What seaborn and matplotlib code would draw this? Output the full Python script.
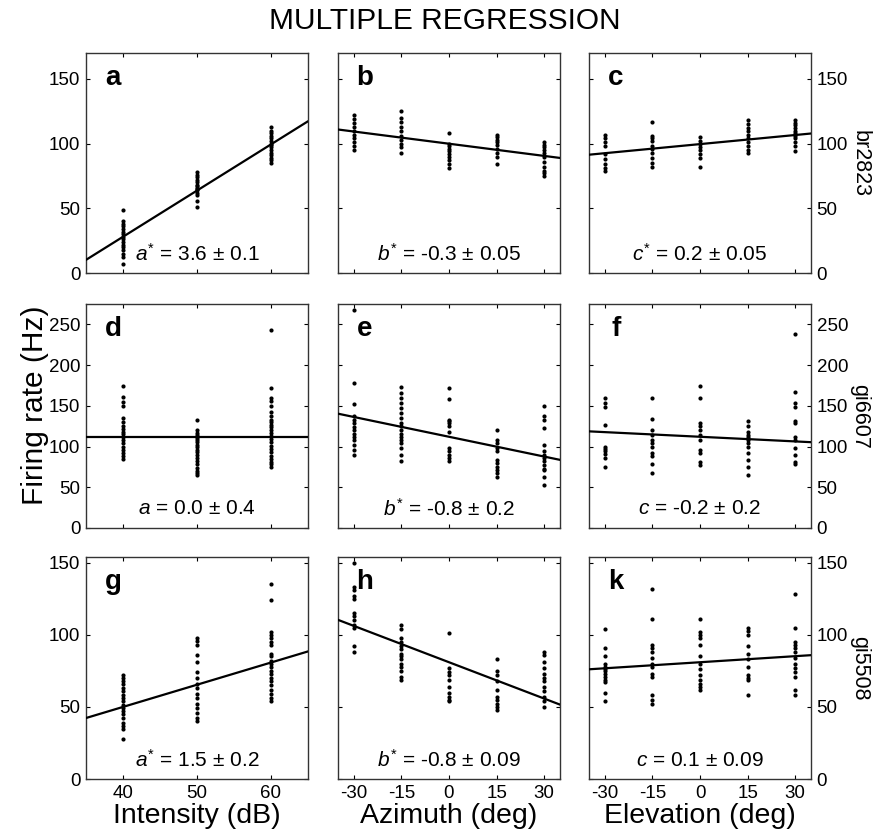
import numpy as np
import pandas as pd
import matplotlib
matplotlib.use("Agg")
import matplotlib.pyplot as plt
import seaborn as sns

# ---------------- data ----------------
intensity_ticks = [40, 50, 60]
angle_ticks = [-30, -15, 0, 15, 30]

panel_a = {40: [49, 40, 38, 36, 34, 32, 30, 28, 26, 24, 22, 20, 18, 15, 12, 7],
           50: [51, 56, 60, 62, 64, 65, 66, 67, 68, 70, 72, 74, 76, 78],
           60: [85, 87, 89, 91, 93, 95, 97, 99, 100, 102, 104, 106, 108, 110, 113]}
panel_b = {-30: [122, 119, 116, 113, 110, 107, 104, 101, 98, 95],
           -15: [125, 120, 117, 113, 110, 106, 103, 100, 97, 93],
           0: [108, 100, 98, 96, 94, 92, 90, 87, 84, 81],
           15: [107, 105, 103, 101, 99, 96, 93, 90, 84],
           30: [101, 99, 97, 95, 93, 90, 86, 82, 79, 77, 75]}
panel_c = {-30: [107, 104, 101, 98, 92, 88, 84, 81, 79],
           -15: [117, 106, 104, 102, 98, 96, 93, 89, 85, 82],
           0: [105, 102, 100, 97, 95, 92, 89, 82],
           15: [118, 115, 112, 110, 107, 104, 101, 98, 95, 93],
           30: [118, 116, 114, 112, 110, 108, 106, 104, 101, 98, 94]}
panel_d = {40: [174, 161, 155, 150, 135, 130, 125, 121, 118, 115, 112, 108, 104, 100, 96, 92, 88, 85],
           50: [133, 120, 117, 114, 111, 108, 105, 102, 99, 96, 93, 90, 86, 82, 78, 74, 70, 67, 65],
           60: [243, 172, 160, 156, 150, 143, 137, 133, 130, 127, 124, 120, 117, 113, 109, 105,
                101, 97, 93, 89, 85, 81, 78, 75]}
panel_e = {-30: [268, 178, 152, 138, 133, 129, 124, 120, 116, 112, 108, 102, 96, 90],
           -15: [173, 166, 160, 153, 147, 141, 135, 129, 125, 120, 116, 112, 108, 104, 98, 90, 82],
           0: [172, 158, 133, 131, 129, 125, 118, 98, 94, 90, 86, 82],
           15: [120, 108, 104, 98, 94, 84, 80, 75, 71, 67, 63],
           30: [150, 137, 133, 123, 102, 94, 90, 86, 82, 77, 73, 71, 63, 53]}
panel_f = {-30: [160, 154, 149, 126, 100, 97, 94, 91, 86, 75],
           -15: [160, 134, 120, 114, 108, 104, 100, 92, 88, 79, 67],
           0: [174, 160, 129, 125, 120, 114, 108, 96, 92, 81, 77],
           15: [131, 125, 118, 114, 112, 108, 104, 100, 92, 84, 75, 65],
           30: [238, 167, 153, 149, 131, 129, 112, 108, 98, 90, 81, 79]}
panel_g = {40: [72, 70, 68, 66, 63, 61, 58, 56, 54, 51, 49, 47, 45, 42, 39, 37, 35, 28],
           50: [98, 96, 93, 86, 81, 74, 70, 66, 63, 59, 56, 52, 49, 46, 42, 40],
           60: [135, 124, 102, 100, 98, 95, 93, 87, 85, 82, 80, 78, 75, 73, 70, 68, 65, 62, 59, 56, 54]}
panel_h = {-30: [150, 133, 131, 127, 125, 115, 113, 110, 107, 105, 92, 88],
           -15: [107, 104, 98, 95, 92, 90, 87, 85, 83, 80, 78, 75, 71, 69],
           0: [101, 77, 74, 72, 69, 64, 60, 57, 55, 54],
           15: [83, 75, 72, 68, 62, 57, 55, 52, 50, 48],
           30: [88, 86, 81, 77, 73, 70, 68, 64, 61, 57, 54, 50]}
panel_k = {-30: [104, 91, 85, 80, 78, 76, 75, 73, 71, 69, 67, 60, 54],
           -15: [132, 111, 93, 91, 88, 84, 80, 78, 73, 71, 58, 55, 52],
           0: [111, 102, 100, 98, 93, 85, 80, 76, 72, 69, 66, 64, 62],
           15: [105, 103, 100, 92, 87, 83, 78, 72, 70, 69, 58],
           30: [128, 105, 95, 93, 91, 88, 84, 80, 77, 74, 71, 62, 58]}

panels = [panel_a, panel_b, panel_c, panel_d, panel_e, panel_f, panel_g, panel_h, panel_k]
letters = ["a", "b", "c", "d", "e", "f", "g", "h", "k"]
line_intercepts = [-114.8, 99.9, 99.6, 112.0, 112.0, 112.0, -11.6, 81.0, 81.0]
line_slopes = [3.57, -0.314, 0.234, 0.0, -0.81, -0.19, 1.54, -0.84, 0.14]
coef_names = ["a", "b", "c", "a", "b", "c", "a", "b", "c"]
coef_star = [True, True, True, False, True, False, True, True, False]
coef_texts = ["3.6 \u00b1 0.1", "-0.3 \u00b1 0.05", "0.2 \u00b1 0.05",
              "0.0 \u00b1 0.4", "-0.8 \u00b1 0.2", "-0.2 \u00b1 0.2",
              "1.5 \u00b1 0.2", "-0.8 \u00b1 0.09", "0.1 \u00b1 0.09"]
neuron_labels = ["br2823", "gi6607", "gi5508"]
row_yticks = [[0, 50, 100, 150], [0, 50, 100, 150, 200, 250], [0, 50, 100, 150]]
row_ylims = [(0, 170), (0, 275), (0, 154)]
col_xlabels = ["Intensity (dB)", "Azimuth (deg)", "Elevation (deg)"]
col_xlims = [(35, 65), (-35, 35), (-35, 35)]
col_xticks = [intensity_ticks, angle_ticks, angle_ticks]

# ---------------- style ----------------
sns.set_style("white")
plt.rcParams["font.family"] = ["Liberation Sans", "DejaVu Sans"]
plt.rcParams["mathtext.fontset"] = "custom"
plt.rcParams["mathtext.it"] = "Liberation Sans:italic"
plt.rcParams["mathtext.rm"] = "Liberation Sans"
plt.rcParams["axes.unicode_minus"] = False
plt.rcParams["text.color"] = "black"
plt.rcParams["axes.labelcolor"] = "black"
plt.rcParams["xtick.color"] = "black"
plt.rcParams["ytick.color"] = "black"

W, H = 882, 839
fig = plt.figure(figsize=(W / 100, H / 100), dpi=100)

col_left = [86, 338, 589]
col_w = 222
row_top = [53, 304, 557]
row_bot = [273, 528, 779]

for i in range(9):
    r, c = divmod(i, 3)
    ax = fig.add_axes([col_left[c] / W, 1 - row_bot[r] / H,
                       col_w / W, (row_bot[r] - row_top[r]) / H])
    pdata = panels[i]
    xs, ys = [], []
    for k, vals in pdata.items():
        xs += [k] * len(vals)
        ys += vals
    df = pd.DataFrame({"x": xs, "y": ys})
    sns.scatterplot(data=df, x="x", y="y", ax=ax, color="black", s=9,
                    linewidth=0, zorder=3)
    xl = col_xlims[c]
    lx = np.array(xl, dtype=float)
    ldf = pd.DataFrame({"x": lx, "y": line_intercepts[i] + line_slopes[i] * lx})
    sns.lineplot(data=ldf, x="x", y="y", ax=ax, color="black", linewidth=1.6,
                 zorder=4)
    ax.set_xlim(xl)
    ax.set_ylim(row_ylims[r])
    ax.set_xticks(col_xticks[c])
    ax.set_yticks(row_yticks[r])
    ax.tick_params(direction="in", length=3, width=0.8, top=True, right=True,
                   bottom=True, left=True, labelsize=13.5, colors="black",
                   labelleft=(c == 0), labelright=(c == 2),
                   labelbottom=(r == 2), pad=4)
    for s in ax.spines.values():
        s.set_color("#333333")
        s.set_linewidth(1.0)
    ax.set_xlabel(col_xlabels[c] if r == 2 else "", fontsize=20.5, labelpad=1)
    ax.set_ylabel("")
    ax.text(27 / col_w, 1 - 25 / (row_bot[r] - row_top[r]), letters[i],
            transform=ax.transAxes, fontsize=20, fontweight="bold",
            ha="center", va="center")
    star = "^{*}" if coef_star[i] else ""
    label = r"$%s%s$ = %s" % (coef_names[i], star, coef_texts[i])
    ax.text(0.5, 19 / (row_bot[r] - row_top[r]), label, transform=ax.transAxes,
            fontsize=15, ha="center", va="center")
    if c == 2:
        ax.text(1.0 + 49 / col_w, 0.5, neuron_labels[r], transform=ax.transAxes,
                rotation=270, fontsize=15.5, ha="center", va="center")

fig.text(445 / W, 1 - 21 / H, "MULTIPLE REGRESSION", fontsize=21.5,
         ha="center", va="center")
fig.text(35 / W, 1 - 405 / H, "Firing rate (Hz)", fontsize=21.5, rotation=90,
         ha="center", va="center")

fig.savefig("out.png", dpi=100)
